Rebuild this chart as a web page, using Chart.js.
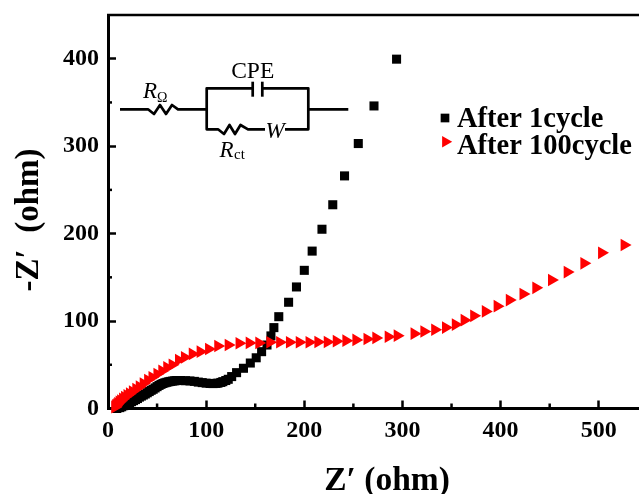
<!DOCTYPE html>
<html>
<head>
<meta charset="utf-8">
<script src="https://cdn.jsdelivr.net/npm/chart.js@4"></script>
<style>
  html, body { margin: 0; padding: 0; background: #fff; }
  canvas { display: block; }
</style>
</head>
<body>
<canvas id="c" width="639" height="494"></canvas>
<script>
// ── Data ──
const cycle1Label = 'After 1cycle';
const cycle1X = [9, 12, 14, 16, 18, 20, 22, 24, 26, 28, 30, 32, 34, 36, 38, 40, 42, 44, 46, 48, 50, 52, 54, 56, 58, 60, 62, 64, 66, 68, 70, 74, 79, 83.5, 88, 92, 96, 100, 104, 107, 110, 112, 115, 117, 120, 122.5, 126, 131, 138, 145, 151, 156.5, 162, 166, 169, 174, 184, 192, 200, 208, 218, 229, 241, 255, 271, 294];
const cycle1Y = [0, 1, 2, 3.2, 4.4, 5.5, 6.6, 7.8, 9, 10.2, 11.4, 13, 14.2, 15.4, 16.6, 18, 19.4, 20.8, 22, 23.5, 25, 26.4, 27.6, 28.6, 29.4, 30, 30.6, 31, 31.4, 31.7, 32, 32, 31.8, 31.5, 31, 30.2, 29.6, 29, 28.6, 28.5, 28.7, 29, 29.8, 30.7, 32, 33.4, 36.5, 41, 46, 52, 58, 65, 72.6, 83, 92.5, 105, 121.5, 139, 158, 180, 205, 233, 266, 303, 346, 399.5];
const cycle100Label = 'After 100cycle';
const cycle100X = [7, 7.5, 8, 9, 10, 11.5, 13, 15, 17, 19.5, 22, 25, 28.5, 32, 36, 40.5, 45, 50, 55, 60, 65.5, 72, 78, 86, 94, 102.6, 112, 122.6, 133.7, 144, 153.8, 165, 175, 185, 195, 205, 214, 223.5, 232.7, 242.5, 252.7, 264, 273, 285.6, 294.8, 312, 322, 333, 344, 354, 363, 372.7, 384.6, 396.6, 409, 423, 436, 452, 468, 485, 503, 526];
const cycle100Y = [1.5, 2.5, 3.5, 4.5, 6, 7.5, 9, 11, 13, 15, 17, 19.5, 22.3, 25, 28.5, 32.6, 35.7, 39.5, 43, 47, 50, 55.5, 58.5, 62.4, 65, 68, 71.5, 72.6, 74.6, 75, 75, 75.8, 75.8, 75.8, 75.8, 75.8, 76, 76, 77, 77.6, 78.4, 79.5, 80.7, 82, 83.3, 85.6, 88, 90, 92.5, 96, 101, 106, 111, 117, 124, 131, 138, 147, 156, 166, 178, 187];
const xTitle = 'Z\u2032 (ohm)';
const yTitle = '-Z\u2032  (ohm)';
const xMax = 541, yMax = 450;

const serif = '"Liberation Serif", "Times New Roman", serif';
const toPoints = (xs, ys) => xs.map((x, i) => ({ x, y: ys[i] }));

// ── Decorations: minor ticks, top border, axis titles, legend, circuit inset ──
function poly(ctx, pts) {
  ctx.beginPath();
  pts.forEach((p, i) => i ? ctx.lineTo(p[0], p[1]) : ctx.moveTo(p[0], p[1]));
  ctx.stroke();
}

function label(ctx, text, x, y, font, align) {
  ctx.font = font;
  ctx.textAlign = align || 'left';
  ctx.textBaseline = 'alphabetic';
  ctx.fillText(text, x, y);
}

const extras = {
  id: 'extras',
  afterDraw(chart) {
    const ctx = chart.ctx, a = chart.chartArea;
    const sx = chart.scales.x, sy = chart.scales.y;
    ctx.save();
    ctx.strokeStyle = '#000';
    ctx.fillStyle = '#000';
    ctx.lineCap = 'butt';

    // minor ticks
    ctx.lineWidth = 2.5;
    [50, 150, 250, 350, 450].forEach(v => {
      const px = sx.getPixelForValue(v);
      poly(ctx, [[px, a.bottom], [px, a.bottom - 5]]);
    });
    [50, 150, 250, 350].forEach(v => {
      const py = sy.getPixelForValue(v);
      poly(ctx, [[a.left, py], [a.left + 4, py]]);
    });

    // top border
    poly(ctx, [[a.left - 1, a.top], [a.right, a.top]]);

    // axis titles
    label(ctx, xTitle, 387, 490, 'bold 33.5px ' + serif, 'center');
    ctx.save();
    ctx.translate(37.5, 220);
    ctx.rotate(-Math.PI / 2);
    label(ctx, yTitle, 0, 0, 'bold 33px ' + serif, 'center');
    ctx.restore();

    // legend
    const m = chart.data.datasets;
    Chart.helpers.drawPoint(ctx, { pointStyle: 'rect', radius: 6.15, rotation: 0, borderWidth: 0 }, 445, 118);
    label(ctx, m[0].label, 457, 127, 'bold 28.5px ' + serif);
    ctx.fillStyle = '#f00';
    ctx.strokeStyle = '#f00';
    Chart.helpers.drawPoint(ctx, { pointStyle: 'triangle', radius: 6.7, rotation: 90, borderWidth: 0 }, 445.5, 141.7);
    ctx.fillStyle = '#000';
    ctx.strokeStyle = '#000';
    label(ctx, m[1].label, 457, 154, 'bold 28.5px ' + serif);

    // equivalent circuit
    ctx.lineWidth = 2.7;
    ctx.lineJoin = 'round';
    poly(ctx, [[120, 109.3], [148, 109.3], [154, 114], [160, 105], [166, 114], [172, 105], [178, 109.3], [206.7, 109.3]]);
    poly(ctx, [[252.7, 88.3], [206.7, 88.3], [206.7, 129.3], [218, 129.3], [224, 134], [229.5, 125], [235, 134], [240.5, 125], [248, 129.3], [265, 129.3]]);
    poly(ctx, [[262.3, 88.3], [308.3, 88.3], [308.3, 129.3], [285, 129.3]]);
    poly(ctx, [[308.3, 109.3], [348.3, 109.3]]);
    poly(ctx, [[252.7, 81.7], [252.7, 96.7]]);
    poly(ctx, [[262.3, 81.7], [262.3, 96.7]]);
    label(ctx, 'CPE', 252.7, 78, '23.5px ' + serif, 'center');
    label(ctx, 'R', 143, 98, 'italic 23px ' + serif);
    label(ctx, '\u03A9', 157, 102, '14px ' + serif);
    label(ctx, 'R', 219.5, 157, 'italic 23px ' + serif);
    label(ctx, 'ct', 234, 159, '15px ' + serif);
    label(ctx, 'W', 275, 138, 'italic 23px ' + serif, 'center');
    ctx.restore();
  }
};

// ── Chart ──
const tickFont = { family: serif, size: 24, weight: 'bold' };
const noPadding = s => { s.paddingTop = s.paddingBottom = s.paddingLeft = s.paddingRight = 0; };
new Chart(document.getElementById('c').getContext('2d'), {
  type: 'scatter',
  data: { datasets: [
    { label: cycle1Label, data: toPoints(cycle1X, cycle1Y), order: 2, pointStyle: 'rect', pointRadius: 6.4, pointBorderWidth: 0, backgroundColor: '#000', clip: false },
    { label: cycle100Label, data: toPoints(cycle100X, cycle100Y), order: 1, pointStyle: 'triangle', pointRotation: 90, pointRadius: 7.3, pointBorderWidth: 0, backgroundColor: '#f00', clip: false }
  ]},
  options: {
    responsive: false,
    animation: false,
    layout: { autoPadding: false, padding: { top: 15, right: 0, left: 0, bottom: 0 } },
    plugins: { legend: { display: false }, tooltip: { enabled: false } },
    scales: {
      x: {
        type: 'linear', min: 0, max: xMax,
        afterFit: s => { s.height = 85.5; noPadding(s); },
        border: { color: '#000', width: 3 },
        grid: { drawOnChartArea: false, tickLength: -8, tickColor: '#000', tickWidth: 2.5 },
        ticks: { stepSize: 100, includeBounds: false, color: '#000', font: tickFont, padding: 16, maxRotation: 0 }
      },
      y: {
        type: 'linear', min: 0, max: yMax,
        afterFit: s => { s.width = 108; noPadding(s); },
        border: { color: '#000', width: 3 },
        grid: { drawOnChartArea: false, tickLength: -8, tickColor: '#000', tickWidth: 2.5 },
        ticks: { stepSize: 100, includeBounds: false, color: '#000', font: tickFont, padding: 17 }
      }
    }
  },
  plugins: [extras]
});
</script>
</body>
</html>
